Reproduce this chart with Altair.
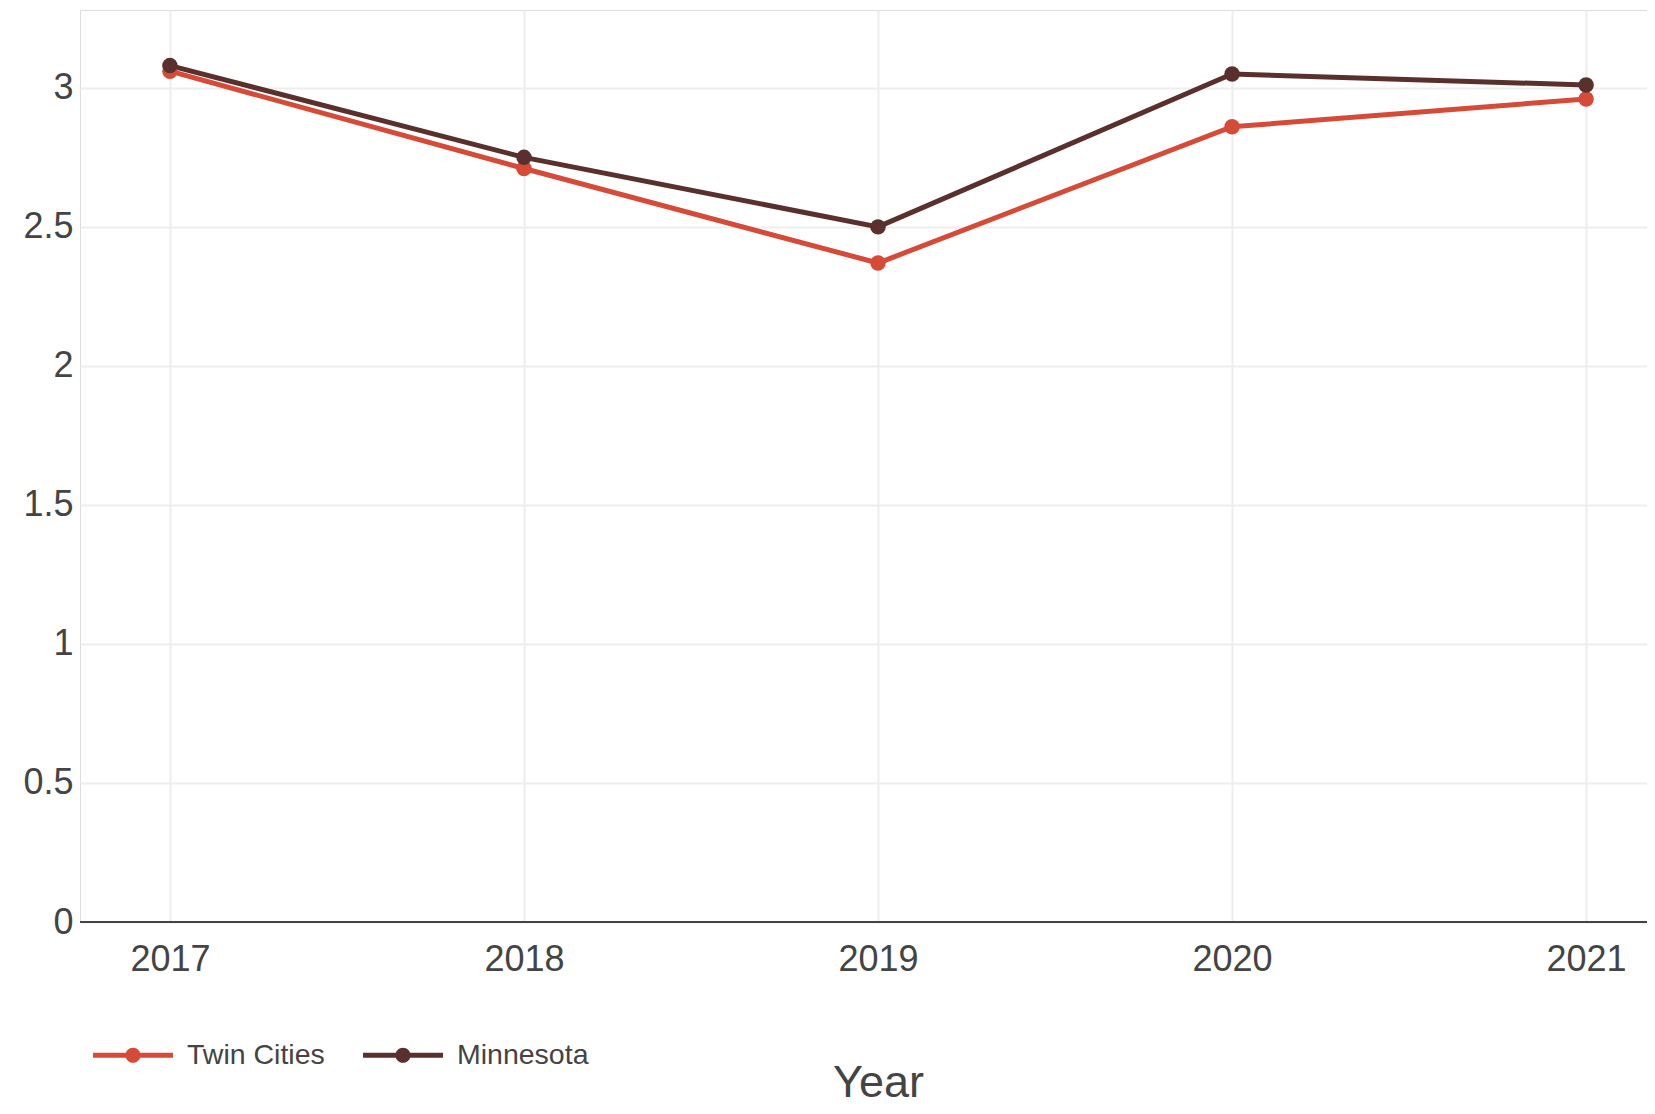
import altair as alt
import pandas as pd

years = [2017, 2018, 2019, 2020, 2021]
twin_cities = [3.06, 2.71, 2.37, 2.86, 2.96]
minnesota = [3.08, 2.75, 2.50, 3.05, 3.01]
series_names = ["Twin Cities", "Minnesota"]
series_colors = ["#D64B38", "#5A302C"]
y_ticks = [0, 0.5, 1, 1.5, 2, 2.5, 3]

rows = []
for name, vals in zip(series_names, [twin_cities, minnesota]):
    for yr, v in zip(years, vals):
        rows.append({"Year": yr, "Value": v, "Region": name})
df = pd.DataFrame(rows)

FONT = "Liberation Sans, Arial, sans-serif"
TXT = "#444444"

legend_symbol = (
    "M-1,-0.065L1,-0.065L1,0.065L-1,0.065Z "
    "M-0.19,0A0.19,0.19 0 1 1 0.19,0A0.19,0.19 0 1 1 -0.19,0Z"
)

x_enc = alt.X(
    "Year:Q",
    scale=alt.Scale(domain=[2016.746, 2021.172], nice=False, zero=False),
    axis=alt.Axis(
        values=years, format="d", title="Year",
        titleFont=FONT, titleFontSize=45, titleFontWeight="normal", titleColor=TXT,
        titleX=798, titleY=174, titleBaseline="alphabetic",
        labelFont=FONT, labelFontSize=36, labelColor=TXT,
        labelBaseline="alphabetic", labelPadding=48,
        ticks=False, tickSize=0, domain=False,
        grid=True, gridColor="#EEEEEE", gridWidth=2,
    ),
)
y_enc = alt.Y(
    "Value:Q",
    scale=alt.Scale(domain=[0, 3.28], nice=False),
    axis=alt.Axis(
        values=y_ticks, title=None, format="~g",
        labelFont=FONT, labelFontSize=36, labelColor=TXT,
        labelPadding=7, ticks=False, tickSize=0, domain=False,
        grid=True, gridColor="#EEEEEE", gridWidth=2,
    ),
)
color_scale = alt.Scale(domain=series_names, range=series_colors)
legend = alt.Legend(
    title=None, orient="none", direction="horizontal",
    legendX=13, legendY=1005, padding=0,
    symbolType=legend_symbol, symbolSize=6400, symbolStrokeWidth=0,
    symbolFillColor="#000000", symbolOpacity=1,
    labelOffset=14, columnPadding=38,
    labelFont=FONT, labelFontSize=28.5, labelColor=TXT,
)
color_enc = alt.Color("Region:N", scale=color_scale, sort=series_names, legend=legend)

lines = alt.Chart(df).mark_line(strokeWidth=5).encode(
    x=x_enc, y=y_enc, color=color_enc, detail="Region:N",
)
points = alt.Chart(df).mark_point(filled=True, size=240, opacity=1).encode(
    x=x_enc, y=y_enc, color=color_enc,
)

zero_line = alt.Chart(pd.DataFrame({"v": [0]})).mark_rule(
    color="#444444", strokeWidth=2
).encode(y=alt.Y("v:Q", scale=alt.Scale(domain=[0, 3.28], nice=False)))

chart = alt.layer(lines, zero_line, points).properties(
    width=1567, height=912,
    autosize=alt.AutoSizeParams(type="none"),
    padding={"left": 72, "top": 2, "right": 0, "bottom": 184},
).configure_view(stroke=None).configure(background="white")

chart.save("out.html", embed_options={"renderer": "svg", "actions": False})
